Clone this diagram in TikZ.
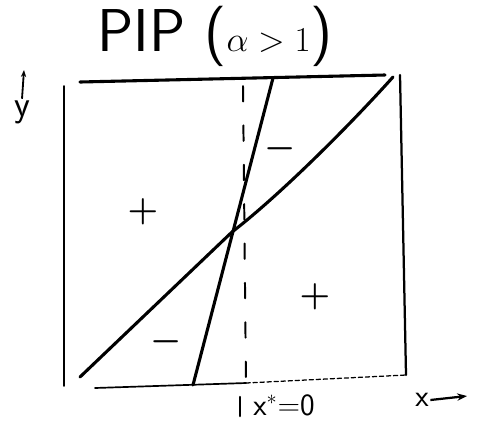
\documentclass[tikz,border=0pt]{standalone}
\usepackage{tikz}
\usetikzlibrary{arrows.meta}

\begin{document}
\begin{tikzpicture}[x=0.025cm, y=-0.025cm,
    curve/.style={line width=2.2pt, line cap=round},
    edge/.style={line width=1.2pt, line cap=round},
    sign/.style={font=\boldmath\fontsize{30}{30}\selectfont},
    lbl/.style={font=\sffamily\fontsize{22}{24}\selectfont, inner sep=1pt},
    arr/.style={-{Stealth[length=7pt]}, line width=1.6pt},
]
\useasboundingbox (0,0) rectangle (477,429);

\node[font=\sffamily\fontsize{43}{45}\selectfont] (title) at (215,36) {PIP ($\alpha>1$)};

\coordinate (nw) at (64,86);
\coordinate (ne) at (400,75);
\coordinate (se) at (406,375);
\coordinate (sw) at (64,386);
\coordinate (bx) at (246,383);

\draw[curve] (80,82) -- (385,75);
\draw[edge] (sw) -- (nw);
\draw[edge, line width=1.6pt] (ne) -- (se);
\draw[edge] (95,388) -- (bx);
\draw[edge, densely dashed, line width=0.9pt] (bx) -- (se);

\coordinate (a1) at (80,377);
\coordinate (eq) at (232,232);
\coordinate (a2) at (393,77);
\coordinate (b1) at (193,385);
\coordinate (b2) at (273,78);
\draw[curve] (a1) -- (eq) .. controls (280,195) and (350,125) .. (a2);
\draw[curve] (b1) -- (b2);

\coordinate (d1) at (243,86);
\coordinate (d2) at (246,386);
\draw[edge, line width=1.4pt, dash pattern=on 11pt off 17pt] (d1) -- (d2);
\draw[edge, line width=1.8pt] (240,397) -- (240,416);

\node[sign] (p1) at (143,212) {$+$};
\node[sign] (m1) at (280,149) {$-$};
\node[sign] (p2) at (315,297) {$+$};
\node[sign] (m2) at (166,342) {$-$};

\node[lbl] (xstar) at (284,405) {x$^*$=0};
\node[lbl] (xlab) at (422,400) {x};
\coordinate (xtip) at (467,396);
\draw[arr] (xlab.east) -- (xtip);
\node[lbl, font=\sffamily\fontsize{26}{28}\selectfont] (ylab) at (22,112) {y};
\coordinate (ytip) at (24,70);
\draw[arr, line width=1.3pt, -{Stealth[length=5pt]}] (ylab.north) -- (ytip);

\end{tikzpicture}
\end{document}
